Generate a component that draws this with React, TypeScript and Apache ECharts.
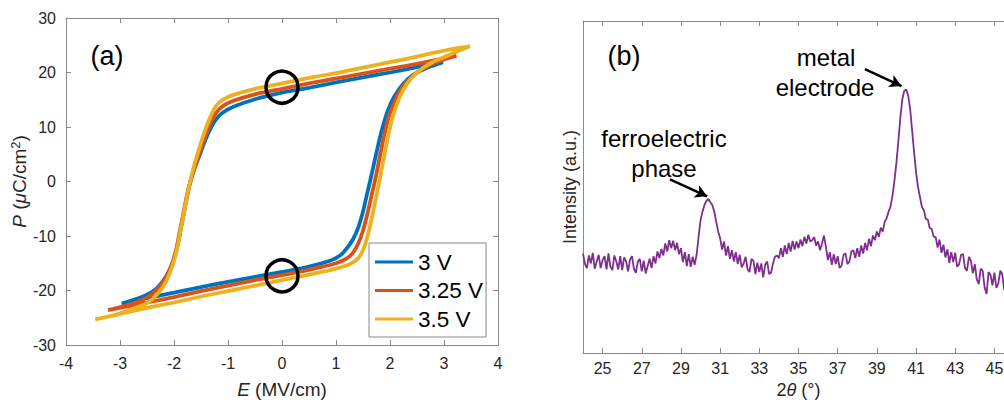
import React, { useEffect, useRef } from "react";
import * as echarts from "echarts";

// ---------- Panel (a): P–E hysteresis loops ----------
const seriesNames = ["3 V", "3.25 V", "3.5 V"];
const seriesColors = ["#0072BD", "#D95319", "#EDB120"];

const loop3VLower: [number, number][] = [
  [-2.97, -22.4], [-2.5, -21.4], [-2.0, -20.4], [-1.5, -19.4], [-1.0, -18.4], [-0.5, -17.5],
  [0, -16.6], [0.5, -15.6], [0.9, -14.5], [1.1, -13.4], [1.22, -12.0], [1.32, -10.5],
  [1.41, -8.5], [1.5, -5.5], [1.57, -2.5], [1.63, 0], [1.72, 4], [1.8, 7.5], [1.87, 10.2],
  [1.96, 13], [2.08, 15.6], [2.25, 18], [2.45, 19.7], [2.7, 20.9], [2.98, 21.9],
];
const loop3VUpper: [number, number][] = [
  [2.5, 21.0], [2.0, 20.0], [1.5, 19.1], [1.0, 18.2], [0.5, 17.2], [0, 16.3], [-0.5, 15.1],
  [-0.9, 13.7], [-1.1, 12.6], [-1.22, 11.4], [-1.32, 9.8], [-1.42, 7.6], [-1.52, 5.0],
  [-1.62, 2.4], [-1.71, -0.6], [-1.79, -4.4], [-1.87, -8.5], [-1.94, -12], [-2.03, -15],
  [-2.15, -17.5], [-2.32, -19.6], [-2.55, -21], [-2.97, -22.4],
];

const loop325VLower: [number, number][] = [
  [-3.22, -23.6], [-2.5, -22.2], [-2.0, -21.2], [-1.5, -20.1], [-1.0, -19.1], [-0.5, -18.1],
  [0, -17.2], [0.5, -16.2], [1.0, -15.0], [1.2, -14.1], [1.32, -13.0], [1.42, -11.2],
  [1.5, -9], [1.58, -6], [1.66, -2.5], [1.74, 1], [1.82, 5], [1.9, 8.8], [1.98, 12],
  [2.1, 15], [2.25, 17.6], [2.45, 19.6], [2.7, 21.2], [3.0, 22.4], [3.23, 23.1],
];
const loop325VUpper: [number, number][] = [
  [3.0, 22.6], [2.5, 21.6], [2.0, 20.7], [1.5, 19.8], [1.0, 18.9], [0.5, 18.0], [0, 17.0],
  [-0.5, 16.0], [-0.9, 14.8], [-1.1, 13.8], [-1.22, 12.6], [-1.32, 10.8], [-1.42, 8.3],
  [-1.52, 5.5], [-1.63, 2.2], [-1.73, -1.2], [-1.81, -5], [-1.89, -9], [-1.96, -12.5],
  [-2.05, -15.5], [-2.17, -18], [-2.35, -20.2], [-2.6, -21.8], [-2.9, -22.8], [-3.22, -23.6],
];

const loop35VLower: [number, number][] = [
  [-3.46, -25.3], [-3.0, -24.3], [-2.5, -23.2], [-2.0, -22.2], [-1.5, -21.1], [-1.0, -20.1],
  [-0.5, -19.1], [0, -18.1], [0.5, -17.1], [1.0, -16.0], [1.25, -15.2], [1.4, -14.2],
  [1.5, -12.6], [1.58, -10.2], [1.66, -6.8], [1.74, -3], [1.82, 1], [1.9, 5], [1.98, 9],
  [2.07, 12.5], [2.18, 15.5], [2.32, 18], [2.5, 20.0], [2.75, 21.7], [3.0, 22.8],
  [3.25, 23.9], [3.48, 24.8],
];
const loop35VUpper: [number, number][] = [
  [3.2, 24.4], [2.8, 23.6], [2.4, 22.7], [2.0, 21.9], [1.5, 20.9], [1.0, 19.9], [0.5, 19.0],
  [0, 18.0], [-0.5, 17.0], [-0.9, 15.9], [-1.1, 15.0], [-1.22, 13.9], [-1.32, 12.0],
  [-1.42, 9.5], [-1.52, 6.5], [-1.62, 3.2], [-1.71, -0.4], [-1.79, -4.4], [-1.87, -8.5],
  [-1.94, -12.2], [-2.03, -15.5], [-2.15, -18.4], [-2.3, -20.6], [-2.5, -22.3],
  [-2.8, -23.5], [-3.1, -24.5], [-3.46, -25.3],
];

const circleMarks: [number, number][] = [
  [0, 17.3],
  [0, -17.3],
];

// ---------- Panel (b): XRD pattern ----------
const twoThetaStart = 24;
const twoThetaStep = 0.1;
const intensity: number[] = [
  30.0, 26.8, 25.6, 29.4, 27.0, 30.2, 25.4, 27.6, 29.6, 25.6,
  28.0, 29.2, 25.2, 30.0, 26.0, 25.0, 29.4, 27.6, 25.2, 29.2,
  25.0, 28.8, 27.6, 24.6, 28.2, 29.2, 25.4, 24.2, 27.6, 28.4,
  24.6, 27.8, 24.0, 26.2, 28.4, 25.6, 29.2, 27.0, 30.6, 28.6,
  31.4, 29.4, 33.0, 30.6, 34.0, 31.6, 33.8, 31.0, 33.2, 29.8,
  31.6, 27.4, 30.4, 26.2, 29.8, 26.0, 29.0, 26.6, 29.6, 35.0,
  40.0, 42.6, 44.6, 45.8, 46.4, 45.4, 44.6, 42.6, 39.6, 36.6,
  34.6, 31.2, 33.6, 29.4, 32.2, 28.4, 31.0, 27.6, 30.4, 26.8,
  29.6, 25.8, 27.0, 29.0, 25.2, 24.4, 28.4, 27.8, 23.8, 27.2,
  24.4, 27.0, 22.8, 26.6, 27.6, 23.8, 24.2, 27.0, 29.0, 29.4,
  28.6, 31.6, 29.0, 32.4, 29.8, 33.2, 30.6, 33.8, 31.2, 33.6,
  31.6, 34.2, 32.2, 35.0, 33.0, 35.6, 33.6, 34.0, 35.0, 32.4,
  33.6, 31.0, 33.0, 35.4, 32.0, 28.0, 30.4, 26.6, 29.8, 26.8,
  29.2, 25.6, 26.4, 29.6, 30.0, 26.8, 27.6, 30.6, 31.0, 28.6,
  31.6, 29.0, 32.4, 30.0, 33.2, 31.0, 34.4, 32.2, 35.4, 34.0,
  36.6, 35.0, 37.8, 36.6, 39.6, 40.6, 42.6, 44.2, 47.5, 52.0,
  57.5, 64.0, 71.0, 76.5, 79.0, 79.4, 77.5, 73.5, 67.0, 60.5,
  54.5, 50.0, 47.0, 44.0, 43.0, 40.4, 40.2, 37.6, 37.4, 35.0,
  35.0, 31.8, 34.2, 30.2, 32.6, 28.8, 31.2, 27.2, 30.4, 27.4,
  30.2, 26.0, 26.8, 29.6, 29.8, 25.6, 24.8, 29.0, 27.8, 24.0,
  26.8, 22.2, 20.8, 25.4, 24.8, 19.8, 17.8, 24.4, 23.6, 20.4,
  24.2, 19.6, 21.0, 24.8, 23.8, 19.0, 20.2, 23.4, 24.0, 20.8, 23.2,
];
const xrdTickValues = [25, 27, 29, 31, 33, 35, 37, 39, 41, 43, 45];
// arrows: [start, end] in data coordinates
const metalArrow: [[number, number], [number, number]] = [[38.39, 85.5], [40.26, 80.4]];
const ferroArrow: [[number, number], [number, number]] = [[28.44, 52.3], [30.34, 47.2]];

const FONT = "'Liberation Sans', Arial, Helvetica, sans-serif";
const AXIS_GRAY = "#8a8a8a";
const TEXT = "#262626";

export default function App() {
  const ref = useRef<HTMLDivElement>(null);

  useEffect(() => {
    document.body.style.margin = "0";
    if (!ref.current) return;
    const chart = echarts.init(ref.current, null, { renderer: "svg" });

    const xrdData = intensity.map((v, i) => [
      +(twoThetaStart + i * twoThetaStep).toFixed(2),
      v,
    ]);
    const loops = [
      [...loop3VLower, ...loop3VUpper],
      [...loop325VLower, ...loop325VUpper],
      [...loop35VLower, ...loop35VUpper],
    ];

    const axisLine = { show: true, onZero: false, lineStyle: { color: AXIS_GRAY, width: 1 } };
    const tick = { show: true, inside: true, length: 5, lineStyle: { color: AXIS_GRAY, width: 1 } };
    const label = { fontSize: 16, color: TEXT, fontFamily: FONT };

    const option: any = {
      animation: false,
      textStyle: { fontFamily: FONT },
      grid: [
        { left: 66, top: 18, width: 432, height: 328 },
        { left: 583, top: 21, width: 431, height: 340 },
      ],
      legend: {
        data: seriesNames,
        orient: "vertical",
        left: 369,
        top: 243,
        icon: "rect",
        itemWidth: 38,
        itemHeight: 3,
        itemGap: 4.5,
        padding: [7, 3, 6, 6],
        selectedMode: false,
        borderColor: "#888",
        borderWidth: 1,
        borderRadius: 0,
        backgroundColor: "#fff",
        textStyle: { fontSize: 22.5, color: "#000", fontFamily: FONT, lineHeight: 24 },
      },
      xAxis: [
        {
          gridIndex: 0, type: "value", min: -4, max: 4, interval: 1, position: "bottom",
          axisLine, axisTick: tick, splitLine: { show: false },
          axisLabel: { ...label, margin: 10 },
          name: "{i|E} (MV/cm)", nameLocation: "middle", nameGap: 35,
          nameTextStyle: {
            fontSize: 19, color: TEXT, fontFamily: FONT,
            rich: { i: { fontStyle: "italic", fontSize: 19, color: TEXT, fontFamily: FONT } },
          },
        },
        {
          gridIndex: 0, type: "value", min: -4, max: 4, interval: 1, position: "top",
          axisLine, axisTick: tick, splitLine: { show: false }, axisLabel: { show: false },
        },
        {
          gridIndex: 1, type: "value", min: 24, max: 46, position: "bottom",
          axisLine, splitLine: { show: false },
          axisTick: { ...tick, customValues: xrdTickValues },
          axisLabel: { ...label, margin: 7, customValues: xrdTickValues },
          name: "2{i|θ} (°)", nameLocation: "middle", nameGap: 26,
          nameTextStyle: {
            fontSize: 18, color: TEXT, fontFamily: FONT,
            rich: { i: { fontStyle: "italic", fontSize: 18, color: TEXT, fontFamily: FONT } },
          },
        },
        {
          gridIndex: 1, type: "value", min: 24, max: 46, position: "top",
          axisLine, splitLine: { show: false },
          axisTick: { ...tick, customValues: xrdTickValues },
          axisLabel: { show: false },
        },
      ],
      yAxis: [
        {
          gridIndex: 0, type: "value", min: -30, max: 30, interval: 10, position: "left",
          axisLine, axisTick: tick, splitLine: { show: false },
          axisLabel: { ...label, margin: 10 },
          name: "{i|P} ({i|μ}C/cm{s|2})", nameLocation: "middle", nameRotate: 90, nameGap: 32,
          nameTextStyle: {
            fontSize: 19, color: TEXT, fontFamily: FONT,
            rich: {
              i: { fontStyle: "italic", fontSize: 19, color: TEXT, fontFamily: FONT },
              s: { fontSize: 13, color: TEXT, fontFamily: FONT, verticalAlign: "top", padding: [0, 0, 8, 0] },
            },
          },
        },
        {
          gridIndex: 0, type: "value", min: -30, max: 30, interval: 10, position: "right",
          axisLine, axisTick: tick, splitLine: { show: false }, axisLabel: { show: false },
        },
        {
          gridIndex: 1, type: "value", min: 0, max: 100, position: "left",
          axisLine, axisTick: { show: false }, splitLine: { show: false }, axisLabel: { show: false },
          name: "Intensity (a.u.)", nameLocation: "middle", nameRotate: 90, nameGap: 4,
          nameTextStyle: { fontSize: 18, color: TEXT, fontFamily: FONT },
        },
        {
          gridIndex: 1, type: "value", min: 0, max: 100, position: "right",
          axisLine, axisTick: { show: false }, splitLine: { show: false }, axisLabel: { show: false },
        },
      ],
      series: [
        ...loops.map((d, k) => ({
          name: seriesNames[k],
          type: "line",
          xAxisIndex: 0,
          yAxisIndex: 0,
          data: d,
          symbol: "none",
          smooth: 0.3,
          color: seriesColors[k],
          lineStyle: { width: 3.8, color: seriesColors[k] },
          z: 2 + k,
        })),
        {
          name: "circles",
          type: "scatter",
          xAxisIndex: 0,
          yAxisIndex: 0,
          data: circleMarks,
          symbol: "circle",
          symbolSize: 32,
          itemStyle: { color: "rgba(0,0,0,0)", borderColor: "#000", borderWidth: 3.5, opacity: 1 },
          z: 10,
          silent: true,
        },
        {
          name: "XRD",
          type: "line",
          xAxisIndex: 2,
          yAxisIndex: 2,
          data: xrdData,
          symbol: "none",
          color: "#7E2F8E",
          lineStyle: { width: 1.8, color: "#7E2F8E" },
          markLine: {
            silent: true,
            symbol: ["none", "arrow"],
            symbolSize: [10, 12],
            label: { show: false },
            lineStyle: { color: "#000", width: 2.5, type: "solid" },
            data: [
              [{ coord: metalArrow[0] }, { coord: metalArrow[1] }],
              [{ coord: ferroArrow[0] }, { coord: ferroArrow[1] }],
            ],
          },
        },
      ],
      graphic: [
        {
          type: "text", x: 107, y: 56,
          style: { text: "(a)", fontSize: 27, fontFamily: FONT, fill: "#000", align: "center", verticalAlign: "middle" },
        },
        {
          type: "text", x: 624, y: 56,
          style: { text: "(b)", fontSize: 27, fontFamily: FONT, fill: "#000", align: "center", verticalAlign: "middle" },
        },
        {
          type: "text", x: 826, y: 57,
          style: { text: "metal", fontSize: 24, fontFamily: FONT, fill: "#000", align: "center", verticalAlign: "middle" },
        },
        {
          type: "text", x: 825, y: 87,
          style: { text: "electrode", fontSize: 24, fontFamily: FONT, fill: "#000", align: "center", verticalAlign: "middle" },
        },
        {
          type: "text", x: 664, y: 138,
          style: { text: "ferroelectric", fontSize: 24, fontFamily: FONT, fill: "#000", align: "center", verticalAlign: "middle" },
        },
        {
          type: "text", x: 664, y: 168,
          style: { text: "phase", fontSize: 24, fontFamily: FONT, fill: "#000", align: "center", verticalAlign: "middle" },
        },
      ],
    };

    chart.setOption(option);
    return () => chart.dispose();
  }, []);

  return (
    <div style={{ position: "relative", width: 1004, height: 404, overflow: "hidden", background: "#fff" }}>
      <div ref={ref} style={{ width: 1040, height: 404 }} />
    </div>
  );
}
